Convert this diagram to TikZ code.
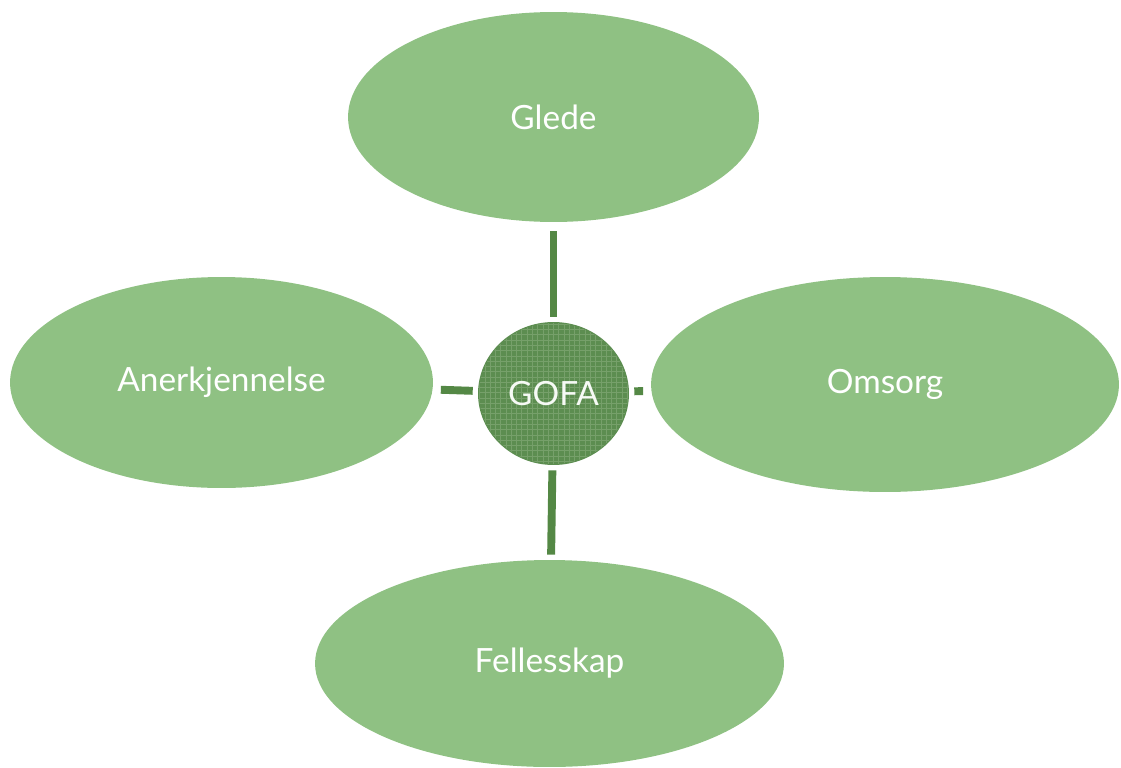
\documentclass[tikz,border=0pt]{standalone}
\usepackage{fontspec}
\setmainfont{Lato}
\usetikzlibrary{shapes.geometric,patterns}
\definecolor{leaf}{RGB}{143,193,131}
\definecolor{stem}{RGB}{84,136,69}
\definecolor{core}{RGB}{92,141,80}
\definecolor{coretex}{RGB}{118,160,106}
\tikzset{
  petal/.style={ellipse, fill=leaf, draw=none, inner sep=0pt, text=white, font=\fontsize{19}{22}\selectfont},
  hub/.style={ellipse, fill=core, inner sep=0pt, text=white!92!leaf, font=\fontsize{19}{22}\selectfont},
  conn/.style={draw=stem, line width=4.5pt}
}
\begin{document}
\begin{tikzpicture}[x=0.02cm,y=-0.02cm]
\useasboundingbox (0,0) rectangle (1121,767);
\node[petal, minimum width=8.22cm, minimum height=4.2cm] (glede) at (553.5,117) {Glede};
\node[petal, minimum width=8.46cm, minimum height=4.22cm] (anerk) at (221.5,382.5) {Anerkjennelse};
\node[petal, minimum width=9.36cm, minimum height=4.3cm] (omsorg) at (885,384.5) {Omsorg};
\node[petal, minimum width=9.38cm, minimum height=4.14cm] (felles) at (549.5,663.5) {Fellesskap};
\node[hub, minimum width=3.02cm, minimum height=2.86cm] (gofa) at (553.5,393.5) {};
\fill[pattern=grid, pattern color=coretex] (gofa.center) ellipse [x radius=1.49cm, y radius=1.41cm];
\node[text=white!92!leaf, font=\fontsize{19}{22}\selectfont] (gofat) at (gofa.center) {GOFA};
\draw[conn, shorten <=0.1cm, shorten >=0.18cm] (gofa) -- (glede);
\draw[conn, shorten <=0.1cm, shorten >=0.16cm] (gofa) -- (anerk);
\draw[conn, shorten <=0.1cm, shorten >=0.16cm] (gofa) -- (omsorg);
\draw[conn, shorten <=0.1cm, shorten >=0.1cm] (gofa) -- (felles);
\end{tikzpicture}
\end{document}
